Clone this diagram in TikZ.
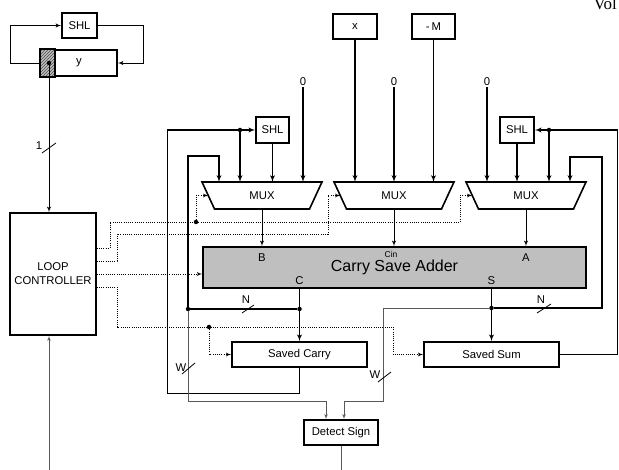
\documentclass[tikz,border=0pt]{standalone}
\usepackage{fontspec}
\setmainfont{Liberation Sans}
\newfontfamily\hdrfont{Liberation Serif}
\usetikzlibrary{calc}
\usetikzlibrary{shapes,arrows,positioning,patterns}
\tikzstyle{block} = [rectangle, draw, line width=1.6pt, inner sep=0pt, fill=white]
\tikzstyle{mux} = [rectangle, inner sep=0pt, outer sep=0pt, minimum width=120pt, minimum height=27pt]
\tikzstyle{wire} = [draw, line width=1.3pt]
\tikzstyle{line} = [draw, line width=1.3pt, -latex']
\tikzstyle{loopline} = [draw, line width=0.9pt, -latex']
\tikzstyle{outline} = [draw, line width=0.9pt, -latex']
\tikzstyle{thinline} = [draw, line width=0.7pt, black!65, -latex']
\tikzstyle{ctrl} = [draw, line width=0.8pt, dash pattern=on 1pt off 1.2pt, -latex']
\tikzstyle{bus} = [draw, line width=0.8pt]
\tikzstyle{dot} = [circle, fill, inner sep=0pt, minimum size=4.5pt]
\tikzstyle{lbl} = [inner sep=1pt]

\begin{document}
\begin{tikzpicture}[x=1pt, y=-1pt, font=\fontsize{11.3}{14}\selectfont]
\useasboundingbox (0,0) rectangle (619,470);
% y register with its shifter
\node[block, minimum width=35pt, minimum height=25pt](SHL_Y) at (79.5,25.5) {SHL};
\node[block, minimum width=76pt, minimum height=26pt](Y_reg) at (79,63) {y};
\fill[black!25] (Y_reg.north west) rectangle ([xshift=15pt]Y_reg.south west);
\fill[pattern=north east lines, pattern color=black!70] (Y_reg.north west) rectangle ([xshift=15pt]Y_reg.south west);
\draw[line width=1.6pt] (Y_reg.north west) rectangle ([xshift=15pt]Y_reg.south west);
\node[dot](Y_bit) at (49,63) {};
\path[loopline] (Y_reg.west) -- ++(-30,0) |- (SHL_Y.west);
\path[loopline] (SHL_Y.east) -- ++(46,0) |- (Y_reg.east);
\node[block, minimum width=86pt, minimum height=122pt, align=center](LC) at (53,274) {LOOP\\CONTROLLER};
\path[loopline] (Y_bit) -- (Y_bit |- LC.north);
\draw[bus] (42,153) -- (56,143);
\node[lbl](W_one) at (39,146) {1};
\coordinate (LC_in) at (49,470);
\path[thinline] (LC_in) -- (LC_in |- LC.south);
%Operands:
\node[block, minimum width=44pt, minimum height=25pt](X_in) at (355,26.5) {x};
\node[block, minimum width=43pt, minimum height=25pt](M_in) at (433.5,26.5) {-\,M};
\node[lbl](Zero_L) at (303,82) {0};
\node[lbl](Zero_M) at (394,82) {0};
\node[lbl](Zero_R) at (487,82) {0};
\node[block, minimum width=33pt, minimum height=26pt](SHL_L) at (272.5,130) {SHL};
\node[block, minimum width=34pt, minimum height=26pt](SHL_R) at (517,130) {SHL};
%Multiplexers:
\node[mux](MUX_L) at (262,195.5) {MUX};
\node[mux](MUX_M) at (394,195.5) {MUX};
\node[mux](MUX_R) at (526,195.5) {MUX};
\draw[line width=1.6pt] (MUX_L.north west) -- (MUX_L.north east) -- ([xshift=-12.5pt]MUX_L.south east) -- ([xshift=12.5pt]MUX_L.south west) -- cycle;
\draw[line width=1.6pt] (MUX_M.north west) -- (MUX_M.north east) -- ([xshift=-12.5pt]MUX_M.south east) -- ([xshift=12.5pt]MUX_M.south west) -- cycle;
\draw[line width=1.6pt] (MUX_R.north west) -- (MUX_R.north east) -- ([xshift=-12.5pt]MUX_R.south east) -- ([xshift=12.5pt]MUX_R.south west) -- cycle;
%Adder and registers:
\node[block, fill=black!25, minimum width=383pt, minimum height=41pt, font=\fontsize{16}{16}\selectfont](CSA) at (394.5,267.5) {Carry Save Adder};
\node[lbl](CSA_B) at (262,258) {B};
\node[lbl, font=\fontsize{8.5}{8.5}\selectfont](CSA_Cin) at (391,254) {Cin};
\node[lbl](CSA_A) at (526,258) {A};
\node[lbl](CSA_C) at (299.5,281) {C};
\node[lbl](CSA_S) at (491.5,281) {S};
\node[block, minimum width=135pt, minimum height=25pt](SC) at (299.5,354.5) {Saved Carry};
\node[block, minimum width=135pt, minimum height=25pt](SS) at (491.5,354.5) {Saved Sum};
\node[block, minimum width=74pt, minimum height=25pt](DS) at (341,432.5) {Detect Sign};
%Junctions:
\node[dot](J_C) at (299.5,309) {};
\node[dot](J_CL) at (188,309) {};
\node[dot](J_S) at (491.5,308) {};
\node[dot](J_L) at (240,130) {};
\node[dot](J_R) at (549,130) {};
\node[dot](J_c1) at (196,222) {};
\node[dot](J_c2) at (209,327) {};
%Data paths:
\path[line] (Zero_L.south) -- (Zero_L.south |- MUX_L.north);
\path[line] (X_in.south) -- (X_in.south |- MUX_M.north);
\path[line] (Zero_M.south) -- (Zero_M.south |- MUX_M.north);
\path[line] (M_in.south) -- (M_in.south |- MUX_M.north);
\path[line] (Zero_R.south) -- (Zero_R.south |- MUX_R.north);
\path[line] (SHL_L.south) -- (SHL_L.south |- MUX_L.north);
\path[line] (SHL_R.south) -- (SHL_R.south |- MUX_R.north);
\path[line] (J_L) -- (J_L |- MUX_L.north);
\path[line] (J_R) -- (J_R |- MUX_R.north);
\path[outline] (MUX_L.south) -- (MUX_L.south |- CSA.north);
\path[outline] (MUX_M.south) -- (MUX_M.south |- CSA.north);
\path[outline] (MUX_R.south) -- (MUX_R.south |- CSA.north);
\path[line] (SC.north |- CSA.south) -- (SC.north);
\path[line] (SS.north |- CSA.south) -- (SS.north);
\path[wire] (J_C) -- (J_CL);
\path[line] (J_CL) |- ($(MUX_L.north)+(-43,-26)$) -- ($(MUX_L.north)+(-43,0)$);
\path[line] (SC.south) -- ++(0,26) -| ($(SHL_L.west)+(-88,0)$) -- (SHL_L.west);
\path[line] (J_S) -| ($(MUX_R.north)+(76,-25)$) -| ($(MUX_R.north)+(44,0)$);
\path[line] (SS.east) -| ($(SHL_R.east)+(83,0)$) -- (SHL_R.east);
\path[thinline] (J_CL) |- ($(DS.north)+(-15,-18)$) -- ($(DS.north)+(-15,0)$);
\path[thinline] (J_S) -| ($(DS.north)+(42,-18)$) -| ($(DS.north)+(3,0)$);
\coordinate (DS_out) at (341,470);
\path[thinline,-] (DS.south) -- (DS_out);
%Control:
\coordinate (LC_o1) at ($(LC.east)+(0,-26)$);
\coordinate (LC_o2) at ($(LC.east)+(0,-13)$);
\coordinate (LC_o4) at ($(LC.east)+(0,13)$);
\path[ctrl] (LC_o1) -| (110,222) -| ($(MUX_R.west)+(-6,0)$) -- ([xshift=6.25pt]MUX_R.west);
\path[ctrl] (J_c1) |- ([xshift=6.25pt]MUX_L.west);
\path[ctrl] (LC_o2) -| (117,234) -| ($(MUX_M.west)+(-6,0)$) -- ([xshift=6.25pt]MUX_M.west);
\path[ctrl] (LC.east) -- (LC.east -| CSA.west);
\path[ctrl] (LC_o4) -| (117,327) -| ($(SS.west)+(-30,0)$) -- (SS.west);
\path[ctrl] (J_c2) |- (SC.west);
%Bus widths:
\draw[bus] (242,313) -- (254,305);
\node[lbl](W_NL) at (246,300) {N};
\draw[bus] (537,313) -- (551,304);
\node[lbl](W_NR) at (541,300) {N};
\draw[bus] (182,374) -- (195,363);
\node[lbl](W_WL) at (181,368) {W};
\draw[bus] (378,382) -- (391,372);
\node[lbl](W_WR) at (375,375) {W};
\node[anchor=base west, font=\hdrfont\fontsize{17}{17}\selectfont](Hdr) at (590,10) {Vol};
\end{tikzpicture}
\end{document}
